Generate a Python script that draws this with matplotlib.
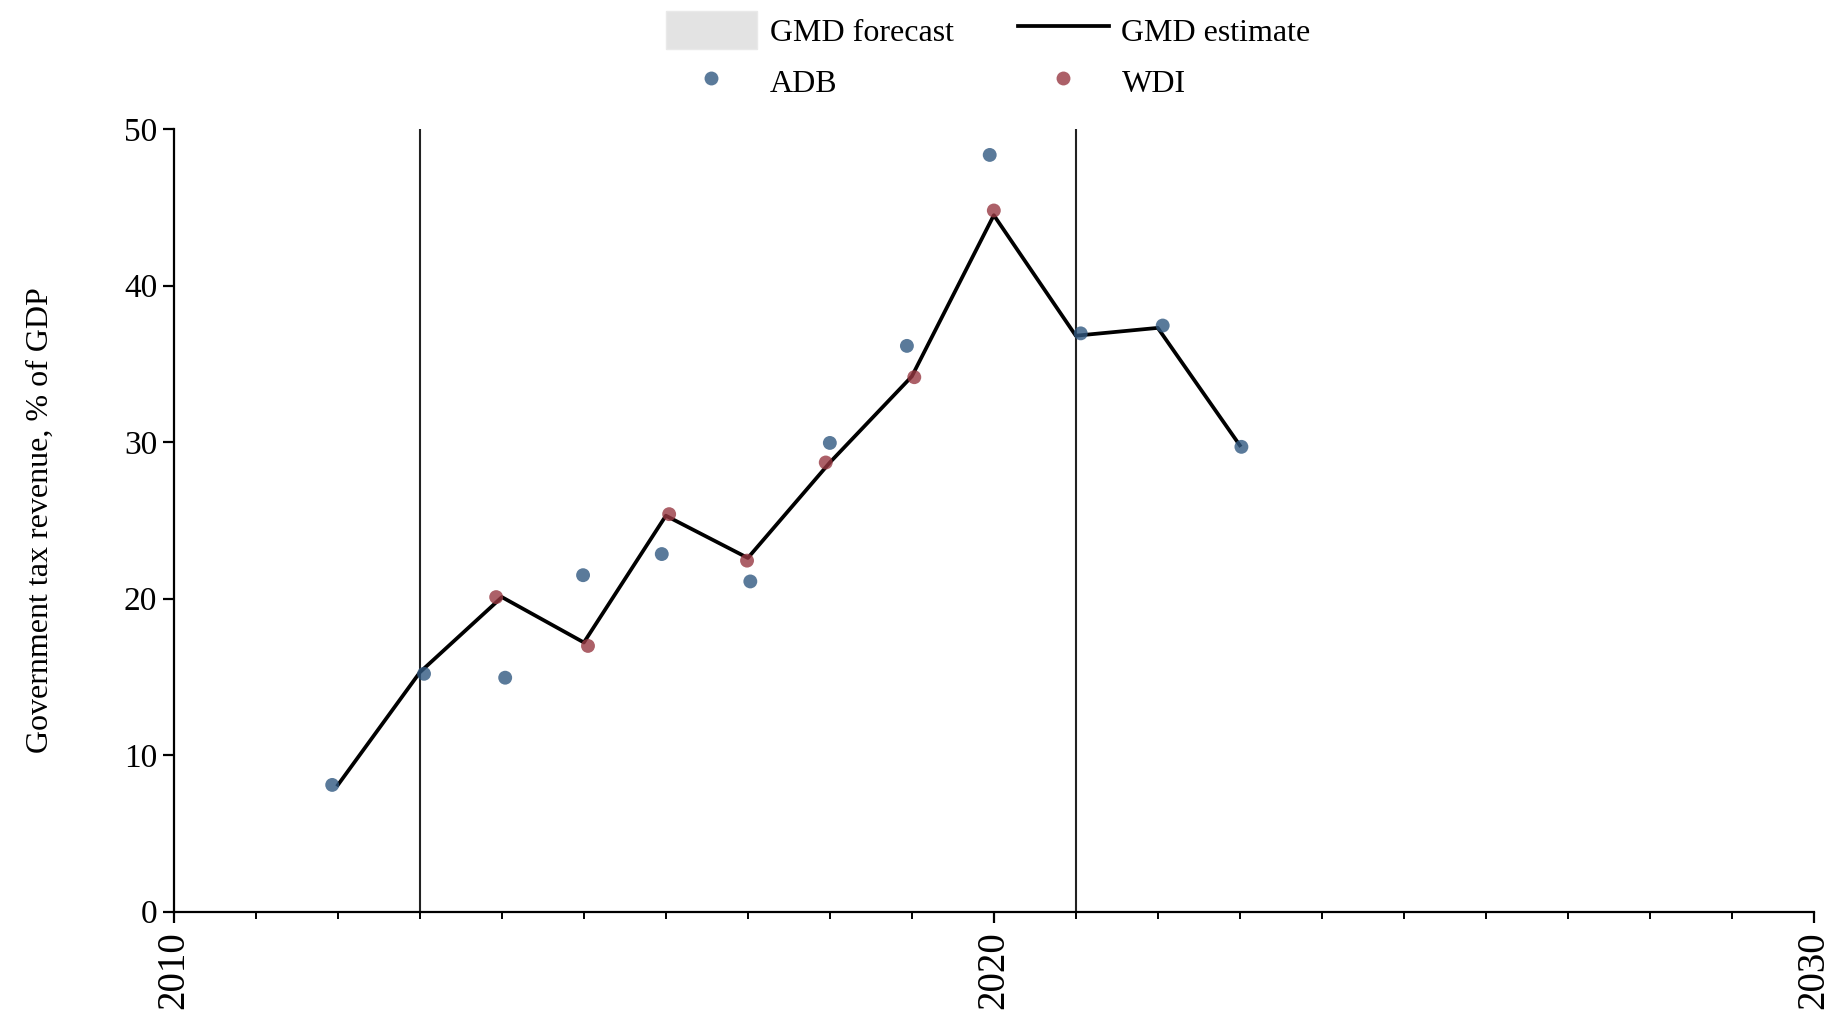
import matplotlib
matplotlib.use("Agg")
import matplotlib.pyplot as plt
from matplotlib.patches import Patch
from matplotlib.lines import Line2D
from matplotlib.ticker import MultipleLocator

plt.rcParams['font.family'] = ['Liberation Serif', 'DejaVu Serif']

# GMD estimate (line)
years = [2012, 2013, 2014, 2015, 2016, 2017, 2018, 2019, 2020, 2021, 2022, 2023]
gmd_est = [8.1, 15.3, 20.1, 17.2, 25.3, 22.6, 28.7, 34.2, 44.5, 36.8, 37.3, 29.8]

# ADB points (slightly jittered in x in the source)
adb_year = [2011.93, 2013.05, 2014.04, 2014.99, 2015.95, 2017.03, 2018.0, 2018.94, 2019.95, 2021.06, 2022.06, 2023.02]
adb_val = [8.1, 15.2, 14.95, 21.5, 22.85, 21.1, 29.95, 36.15, 48.35, 36.95, 37.45, 29.7]

# WDI points
wdi_year = [2013.93, 2015.05, 2016.04, 2016.99, 2017.95, 2019.03, 2020.0]
wdi_val = [20.1, 16.98, 25.4, 22.43, 28.7, 34.15, 44.8]

# vertical marker lines
vlines = [2013, 2021]

adb_col = "#315981"
wdi_col = "#973842"

fig = plt.figure(figsize=(18.37, 10.19), dpi=100)
ax = fig.add_axes([0.0947, 0.1053, 0.8926, 0.768])

for v in vlines:
    ax.axvline(v, color="#222222", lw=1.5, zorder=1)

ax.plot(years, gmd_est, color="black", lw=2.7, zorder=2)
ax.scatter(adb_year, adb_val, s=100, color=adb_col, alpha=0.8, edgecolors="none", zorder=3)
ax.scatter(wdi_year, wdi_val, s=100, color=wdi_col, alpha=0.8, edgecolors="none", zorder=3)

ax.set_xlim(2010, 2030)
ax.set_ylim(0, 50)
ax.set_xticks([2010, 2020, 2030])
ax.xaxis.set_minor_locator(MultipleLocator(1))
ax.set_yticks([0, 10, 20, 30, 40, 50])

for s in ["top", "right"]:
    ax.spines[s].set_visible(False)
for s in ["left", "bottom"]:
    ax.spines[s].set_linewidth(1.6)

ax.tick_params(axis="x", which="major", length=8, width=1.6, labelsize=28, rotation=90, pad=6)
ax.tick_params(axis="x", which="minor", length=5, width=1.4)
ax.tick_params(axis="y", length=8, width=1.6, labelsize=24, pad=4)

ax.set_ylabel("Government tax revenue, % of GDP", fontsize=23, labelpad=50)

# order so that ncol=2 gives rows: forecast/estimate, ADB/WDI
handles = [
    Patch(facecolor="#e3e3e3", edgecolor="#e9e9e9", label="GMD forecast"),
    Line2D([0], [0], marker="o", ls="none", markersize=10, markerfacecolor=adb_col,
           markeredgecolor="none", alpha=0.8, label="ADB"),
    Line2D([0], [0], color="black", lw=2.7, label="GMD estimate"),
    Line2D([0], [0], marker="o", ls="none", markersize=10, markerfacecolor=wdi_col,
           markeredgecolor="none", alpha=0.8, label="WDI"),
]
fig.legend(handles=handles, ncol=2, loc="upper center", bbox_to_anchor=(0.538, 1.017),
           frameon=False, fontsize=23, handlelength=2.85, handleheight=1.45,
           handletextpad=0.4, columnspacing=2.0, labelspacing=0.42)

fig.savefig("out.png", dpi=100)
